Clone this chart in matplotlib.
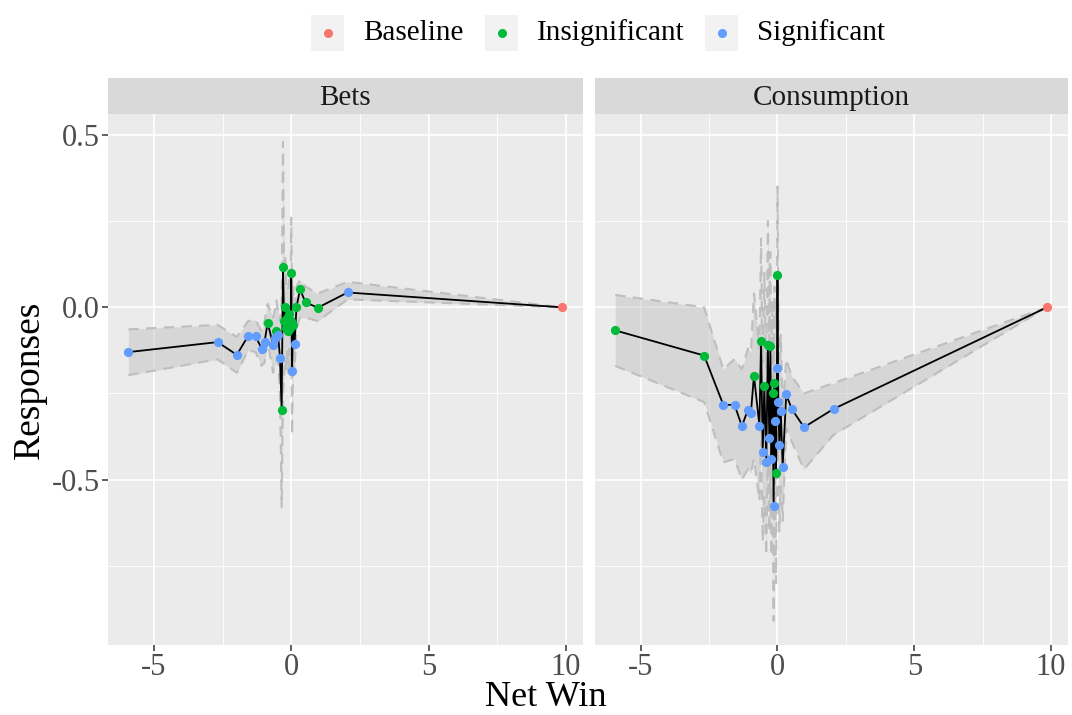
import matplotlib.pyplot as plt
from matplotlib.lines import Line2D
from matplotlib.patches import Rectangle

plt.rcParams['font.family'] = ['Liberation Serif', 'DejaVu Serif']

# net win bins (shared by both facets)
net_win = [-5.93, -2.68, -1.98, -1.57, -1.30, -1.08, -0.97, -0.86, -0.66, -0.60,
           -0.54, -0.48, -0.41, -0.35, -0.30, -0.26, -0.22, -0.18, -0.14, -0.11,
           -0.08, -0.05, -0.02, 0.00, 0.03, 0.07, 0.12, 0.19, 0.32, 0.52,
           0.97, 2.05, 9.85]

# Bets
bets_est = [-0.130, -0.101, -0.138, -0.083, -0.083, -0.120, -0.100, -0.045, -0.108, -0.090,
            -0.070, -0.079, -0.146, -0.297, 0.118, -0.040, 0.000, -0.060, -0.030, -0.070,
            -0.020, -0.060, -0.040, 0.100, -0.185, -0.050, -0.107, 0.000, 0.052, 0.014,
            -0.001, 0.043, 0.0]
bets_lo = [-0.197, -0.151, -0.190, -0.125, -0.130, -0.170, -0.160, -0.100, -0.190, -0.170,
           -0.160, -0.150, -0.250, -0.580, -0.250, -0.200, -0.150, -0.180, -0.120, -0.190,
           -0.120, -0.200, -0.150, -0.060, -0.370, -0.160, -0.190, -0.060, -0.030, -0.030,
           -0.040, 0.023, 0.0]
bets_hi = [-0.064, -0.051, -0.086, -0.040, -0.036, -0.070, -0.040, 0.010, -0.030, -0.010,
           0.020, -0.010, -0.040, 0.010, 0.480, 0.120, 0.150, 0.060, 0.060, 0.050,
           0.080, 0.080, 0.070, 0.260, -0.010, 0.060, -0.020, 0.060, 0.080, 0.060,
           0.040, 0.074, 0.0]
bets_sig = ['S', 'S', 'S', 'S', 'S', 'S', 'S', 'I', 'S', 'S',
            'I', 'S', 'S', 'I', 'I', 'I', 'I', 'I', 'I', 'I',
            'I', 'I', 'I', 'I', 'S', 'I', 'S', 'I', 'I', 'I',
            'I', 'S', 'B']

# Consumption
cons_est = [-0.067, -0.140, -0.283, -0.283, -0.345, -0.297, -0.306, -0.198, -0.344, -0.098,
            -0.420, -0.227, -0.450, -0.110, -0.380, -0.113, -0.440, -0.250, -0.578, -0.220,
            -0.330, -0.480, -0.175, 0.095, -0.276, -0.400, -0.300, -0.463, -0.253, -0.295,
            -0.348, -0.295, 0.0]
cons_lo = [-0.170, -0.275, -0.450, -0.440, -0.500, -0.470, -0.480, -0.440, -0.560, -0.390,
           -0.680, -0.550, -0.720, -0.430, -0.650, -0.450, -0.720, -0.520, -0.910, -0.500,
           -0.600, -0.800, -0.320, -0.200, -0.520, -0.650, -0.520, -0.620, -0.350, -0.390,
           -0.470, -0.370, 0.0]
cons_hi = [0.036, 0.000, -0.180, -0.150, -0.180, -0.120, -0.130, 0.040, -0.120, 0.200,
           -0.160, 0.100, -0.180, 0.250, -0.100, 0.160, -0.160, 0.020, -0.250, 0.060,
           -0.060, 0.020, -0.030, 0.350, -0.030, -0.150, -0.080, -0.300, -0.150, -0.200,
           -0.250, -0.220, 0.0]
cons_sig = ['I', 'I', 'S', 'S', 'S', 'S', 'S', 'I', 'S', 'I',
            'S', 'I', 'S', 'I', 'S', 'I', 'S', 'I', 'S', 'I',
            'S', 'I', 'S', 'I', 'S', 'S', 'S', 'S', 'S', 'S',
            'S', 'S', 'B']

panels = ['Bets', 'Consumption']
legend_labels = ['Baseline', 'Insignificant', 'Significant']
colors = {'B': '#F8766D', 'I': '#00BA38', 'S': '#619CFF'}

fig = plt.figure(figsize=(10.72, 7.15), dpi=100)
W, H = 1072, 715


def px_axes(x0, y0, x1, y1):
    return fig.add_axes([x0 / W, 1 - y1 / H, (x1 - x0) / W, (y1 - y0) / H])


data = [(bets_est, bets_lo, bets_hi, bets_sig), (cons_est, cons_lo, cons_hi, cons_sig)]
lefts = [(108, 583), (595, 1068)]

for i, (name, (est, lo, hi, sig)) in enumerate(zip(panels, data)):
    x0, x1 = lefts[i]
    ax = px_axes(x0, 114, x1, 645)
    ax.set_facecolor('#EBEBEB')
    for s in ax.spines.values():
        s.set_visible(False)
    ax.fill_between(net_win, lo, hi, color='#BEBEBE', alpha=0.45, lw=0)
    ax.plot(net_win, lo, color='#BEBEBE', lw=1.5, ls=(0, (5, 3.5)))
    ax.plot(net_win, hi, color='#BEBEBE', lw=1.5, ls=(0, (5, 3.5)))
    ax.plot(net_win, est, color='black', lw=1.3)
    for key in ['B', 'I', 'S']:
        xs = [x for x, g in zip(net_win, sig) if g == key]
        ys = [y for y, g in zip(est, sig) if g == key]
        ax.scatter(xs, ys, s=44, color=colors[key], zorder=5, lw=0)
    ax.set_xlim(-6.67, 10.62)
    ax.set_ylim(-0.98, 0.561)
    ax.set_xticks([-5, 0, 5, 10])
    ax.set_xticklabels(['-5', '0', '5', '10'])
    ax.set_xticks([-2.5, 2.5, 7.5], minor=True)
    ax.set_yticks([-0.5, 0.0, 0.5])
    ax.set_yticklabels(['-0.5', '0.0', '0.5'])
    ax.set_yticks([-0.75, -0.25, 0.25], minor=True)
    ax.grid(which='major', color='white', lw=1.2)
    ax.grid(which='minor', color='white', lw=0.6)
    ax.set_axisbelow(True)
    ax.tick_params(which='major', length=4, width=1.1, color='#333333',
                   labelcolor='#4D4D4D', labelsize=22, pad=2)
    ax.tick_params(which='minor', length=0)
    if i == 1:
        ax.tick_params(axis='y', length=0, labelleft=False)

    st = px_axes(x0, 78, x1, 114)
    st.set_facecolor('#D9D9D9')
    st.set_xticks([])
    st.set_yticks([])
    for s in st.spines.values():
        s.set_visible(False)
    st.text(0.5, 0.45, name, ha='center', va='center', fontsize=21, color='#1A1A1A',
            transform=st.transAxes)

fig.text(546 / W, 1 - 698 / H, 'Net Win', ha='center', va='center', fontsize=26)
fig.text(30 / W, 1 - 380 / H, 'Responses', ha='center', va='center', fontsize=27,
         rotation=90)

# legend
key_x = [311, 485, 705]
for kx, lab, key in zip(key_x, legend_labels, ['B', 'I', 'S']):
    fig.patches.append(Rectangle((kx / W, 1 - 51 / H), 33 / W, 36 / H,
                                 transform=fig.transFigure, color='#F2F2F2', lw=0))
    fig.lines.append(Line2D([(kx + 16.5) / W], [1 - 33 / H], marker='o', ms=6.5,
                            color=colors[key], mew=0, transform=fig.transFigure))
    fig.text((kx + 52) / W, 1 - 33 / H, lab, ha='left', va='center', fontsize=21)

fig.savefig('out.png', dpi=100)
